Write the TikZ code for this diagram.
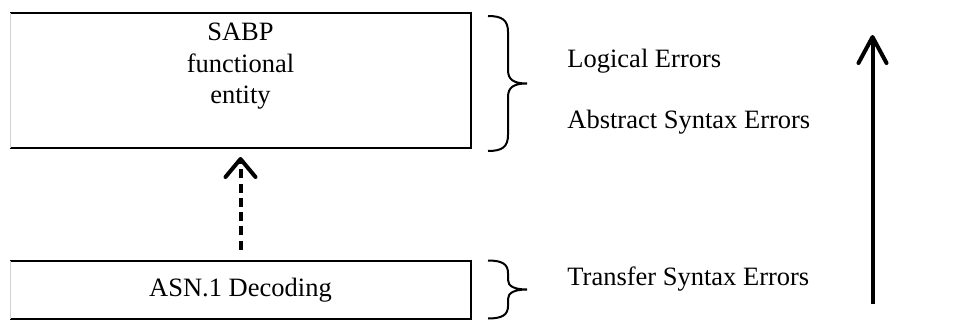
\documentclass[tikz,border=0pt]{standalone}
\usepackage{fontspec}
\setmainfont{Liberation Serif}
\usetikzlibrary{arrows.meta}
\begin{document}
\begin{tikzpicture}[x=0.5pt,y=-0.5pt,
  boxframe/.style={draw=none, minimum width=230.5pt, outer sep=0pt, inner sep=0pt},
  edge/.style={line width=1pt, black},
  faint/.style={line width=0.5pt, black!18},
  lbl/.style={inner sep=0pt, font=\fontsize{13.25pt}{15pt}\selectfont},
  brace/.style={line width=1pt, black},
  dasharrow/.style={line width=2pt, dash pattern=on 4.5pt off 2.6pt,
    -{Straight Barb[length=9pt,width=15pt,round]}},
  bigarrow/.style={line width=2pt,
    -{Straight Barb[length=13pt,width=14pt,round]}}]
\useasboundingbox (0,0) rectangle (956,320);

% upper box
\node[boxframe, minimum height=67.25pt] (sabp) at (240.5,80.75) {};
\draw[edge] (sabp.south west) -- (sabp.south east) -- (sabp.north east) -- (sabp.north west);
\draw[faint] (sabp.north west) -- (sabp.south west);
\node[lbl, anchor=base] (t1) at (240.5,41) {SABP};
\node[lbl, anchor=base] (t2) at (240.5,72.5) {functional};
\node[lbl, anchor=base] (t3) at (240.5,104) {entity};

% lower box
\node[boxframe, minimum height=29pt] (asn) at (240.5,289.5) {};
\draw[edge] (asn.south west) -- (asn.south east) -- (asn.north east) -- (asn.north west);
\draw[faint] (asn.north west) -- (asn.south west);
\node[lbl, anchor=base] (t4) at (240.5,296.5) {ASN.1 Decoding};

% dashed arrow
\draw[dasharrow, shorten <=5.5pt, shorten >=4.5pt] (asn.north) -- (sabp.south);

% braces
\draw[brace] (488,16) .. controls (502,16) and (508,20) .. (508,32) -- (508,70)
  .. controls (508,80) and (514,83.5) .. (527,83.5)
  .. controls (514,83.5) and (508,87) .. (508,97) -- (508,135)
  .. controls (508,147) and (502,151) .. (488,151);
\draw[brace] (488,260.5) .. controls (502,260.5) and (508,264) .. (508,273) -- (508,280)
  .. controls (508,286) and (514,289.5) .. (527,289.5)
  .. controls (514,289.5) and (508,293) .. (508,299) -- (508,306)
  .. controls (508,315) and (502,318.5) .. (488,318.5);

% error labels
\node[lbl, anchor=base west] (le) at (567,68) {Logical Errors};
\node[lbl, anchor=base west] (ae) at (567,129) {Abstract Syntax Errors};
\node[lbl, anchor=base west] (te) at (567,285) {Transfer Syntax Errors};

% big arrow
\coordinate (bs) at (872.5,304);
\coordinate (be) at (872.5,35);
\draw[bigarrow] (bs) -- (be);
\end{tikzpicture}
\end{document}
